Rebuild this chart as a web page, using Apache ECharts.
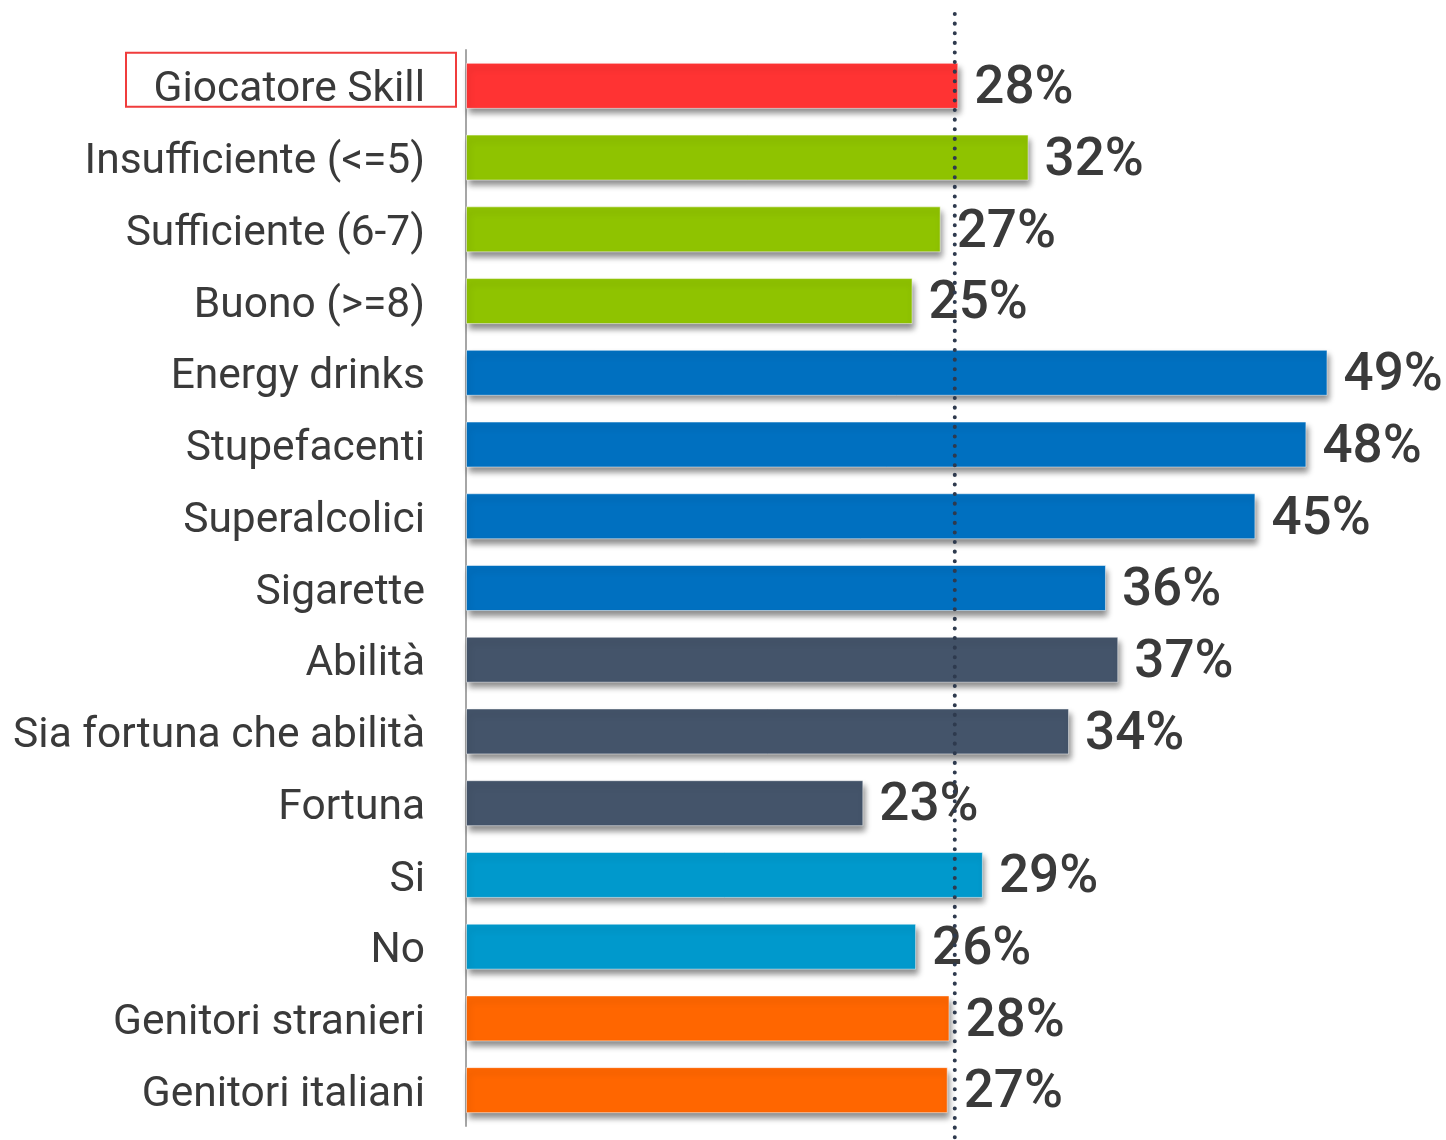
<!DOCTYPE html>
<html lang="it">
<head>
  <meta charset="utf-8">
  <title>Giocatore Skill</title>
  <script src="https://fastly.jsdelivr.net/npm/echarts@6/dist/echarts.min.js"></script>
  <style>
    * { margin: 0; padding: 0; }
    #chart { width: 1446px; height: 1140px; background: #fff; }
  </style>
</head>
<body>
  <div id="chart"></div>
  <script>
    // categories top to bottom
    var categories = [
      'Giocatore Skill', 'Insufficiente (<=5)', 'Sufficiente (6-7)', 'Buono (>=8)',
      'Energy drinks', 'Stupefacenti', 'Superalcolici', 'Sigarette',
      'Abilità', 'Sia fortuna che abilità', 'Fortuna',
      'Si', 'No', 'Genitori stranieri', 'Genitori italiani'
    ];
    // values (labels show them rounded)
    var values = [28.0, 32.0, 27.0, 25.4, 49.0, 47.8, 44.9, 36.4, 37.1, 34.3, 22.6, 29.4, 25.6, 27.5, 27.4];
    var barColors = [
      '#FF3333', '#8FC300', '#8FC300', '#8FC300',
      '#0070C0', '#0070C0', '#0070C0', '#0070C0',
      '#44546A', '#44546A', '#44546A',
      '#0099CC', '#0099CC', '#FF6600', '#FF6600'
    ];
    var averageValue = 27.8;

    var dom = document.getElementById('chart');
    var myChart = echarts.init(dom, null, { renderer: 'canvas' });

    var option = {
      animation: false,
      grid: { left: 466, top: 50, width: 967, height: 1076 },
      xAxis: {
        type: 'value',
        min: 0,
        max: 55,
        show: false
      },
      yAxis: {
        type: 'category',
        inverse: true,
        data: categories,
        axisLine: { show: true, lineStyle: { color: '#A6A6A6', width: 2 } },
        axisTick: { show: false },
        axisLabel: {
          margin: 41,
          formatter: function (v) { return '{c|' + v + '}'; },
          rich: {
            c: {
              color: '#3A3A3A',
              fontFamily: 'Roboto',
              fontSize: 42.5,
              padding: [10, 0, 0, 0]
            }
          }
        }
      },
      series: [
        {
          type: 'bar',
          barWidth: 46,
          data: values.map(function (v, i) {
            return { value: v, itemStyle: { color: barColors[i] } };
          }),
          itemStyle: {
            borderColor: 'rgba(255,255,255,0.5)',
            borderWidth: 1,
            shadowColor: 'rgba(0,0,0,0.45)',
            shadowBlur: 6,
            shadowOffsetX: 2,
            shadowOffsetY: 5
          },
          label: {
            show: true,
            position: 'right',
            distance: 16,
            offset: [0, 4],
            color: '#3A3A3A',
            fontFamily: 'Roboto',
            fontWeight: 500,
            fontSize: 53,
            formatter: function (p) { return Math.round(p.value) + '%'; }
          }
        }
      ]
    };

    myChart.setOption(option);

    // average dotted line across the whole height, and the box around the first label
    var avgX = myChart.convertToPixel({ xAxisIndex: 0 }, averageValue);
    var firstY = myChart.convertToPixel({ yAxisIndex: 0 }, categories[0]);
    myChart.setOption({
      graphic: [
        {
          type: 'line',
          shape: { x1: avgX, y1: 14, x2: avgX, y2: 1140 },
          style: { stroke: '#2E3A4E', lineWidth: 4, lineDash: [0.1, 9.5], lineCap: 'round' },
          z: 10
        },
        {
          type: 'rect',
          shape: { x: 126, y: firstY - 33, width: 330, height: 54 },
          style: { fill: 'none', stroke: '#F03C3C', lineWidth: 2 },
          z: 10
        }
      ]
    });

    window.addEventListener('resize', myChart.resize);
  </script>
</body>
</html>
